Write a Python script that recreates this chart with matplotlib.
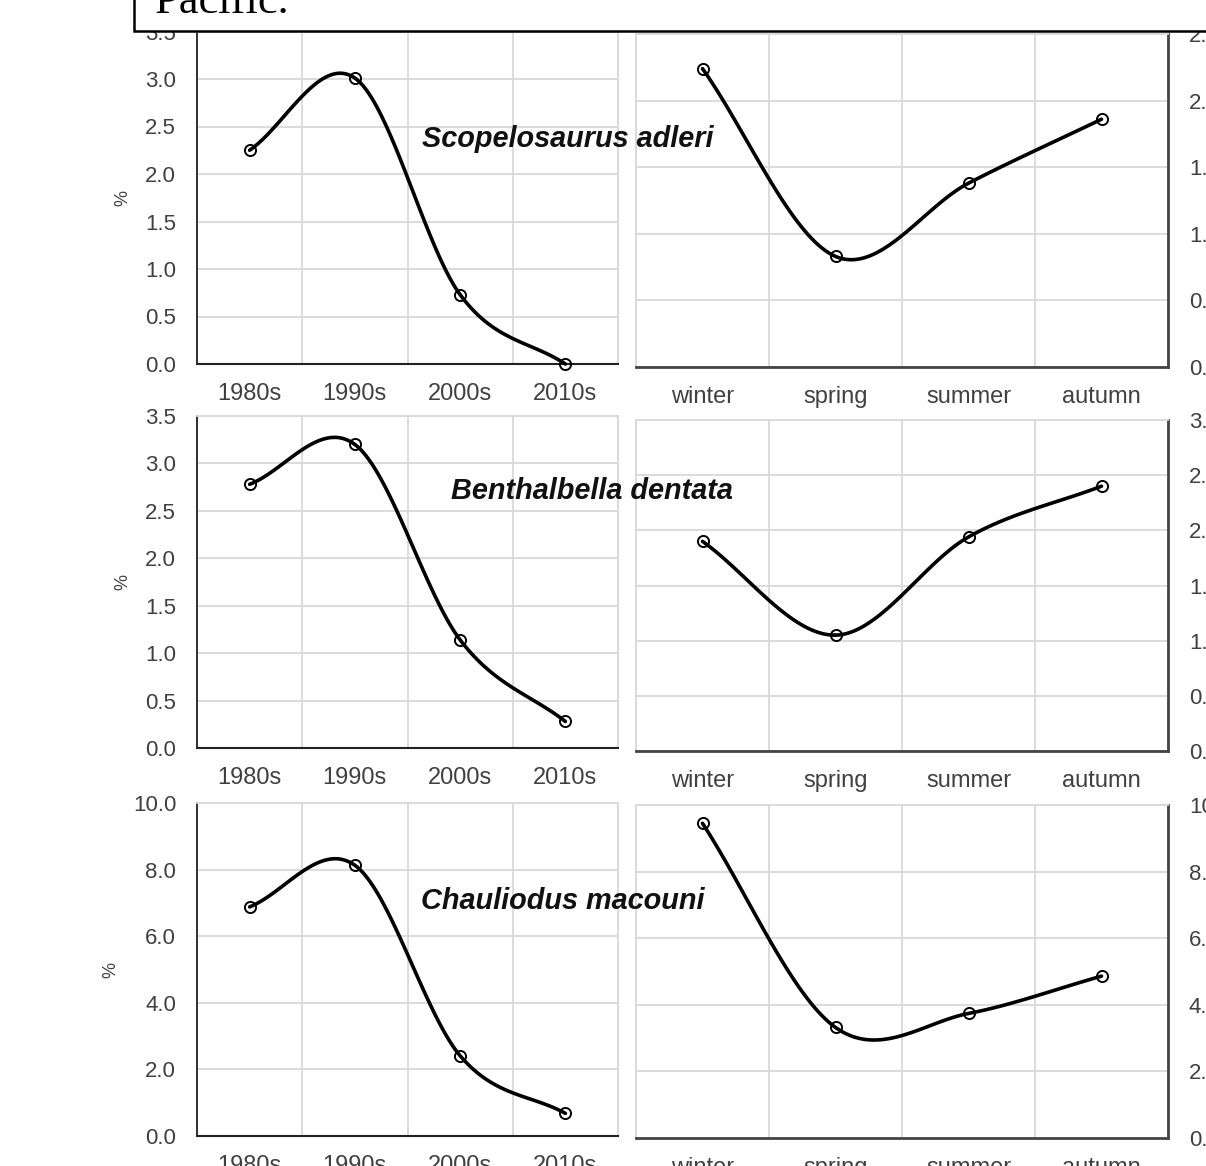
import numpy as np
import matplotlib.pyplot as plt
from matplotlib.patches import Rectangle

plt.rcParams['font.family'] = ['Liberation Sans', 'DejaVu Sans']

decades = ['1980s', '1990s', '2000s', '2010s']
seasons = ['winter', 'spring', 'summer', 'autumn']
species = ['Scopelosaurus adleri', 'Benthalbella dentata', 'Chauliodus macouni']

# share (%) by decade
decade_vals = [
    [2.25, 3.01, 0.73, 0.00],
    [2.78, 3.20, 1.14, 0.28],
    [6.88, 8.13, 2.41, 0.68],
]
# share (%) by season
season_vals = [
    [2.24, 0.83, 1.38, 1.86],
    [1.90, 1.05, 1.94, 2.40],
    [9.45, 3.32, 3.74, 4.86],
]
left_ylim = [3.5, 3.5, 10.0]
left_step = [0.5, 0.5, 2.0]
right_ylim = [2.5, 3.0, 10.0]
right_step = [0.5, 0.5, 2.0]

W, H = 1206, 1166
GRID = '#d9d9d9'
TICK = '#404040'


def smooth(y, n=40):
    # Catmull-Rom curve through the points, like a spreadsheet "smoothed line"
    x = np.arange(len(y), dtype=float)
    p = np.column_stack([x, np.asarray(y, dtype=float)])
    p = np.vstack([2 * p[0] - p[1], p, 2 * p[-1] - p[-2]])
    out = []
    for i in range(1, len(p) - 2):
        p0, p1, p2, p3 = p[i - 1], p[i], p[i + 1], p[i + 2]
        t = np.linspace(0, 1, n)[:, None]
        seg = 0.5 * ((2 * p1) + (-p0 + p2) * t + (2 * p0 - 5 * p1 + 4 * p2 - p3) * t ** 2
                     + (-p0 + 3 * p1 - 3 * p2 + p3) * t ** 3)
        out.append(seg)
    out = np.vstack(out)
    return out[:, 0], out[:, 1]


def px_axes(fig, x0, y0, x1, y1):
    return fig.add_axes([x0 / W, 1 - y1 / H, (x1 - x0) / W, (y1 - y0) / H])


def draw(ax, cats, vals, top, step, right):
    xs, ys = smooth(vals)
    ax.plot(xs, ys, color='black', lw=2.6, solid_capstyle='round', zorder=3, clip_on=False)
    ax.plot(range(len(vals)), vals, ls='none', marker='o', ms=8, mfc='none',
            mec='black', mew=1.4, zorder=4, clip_on=False)
    ax.set_xlim(-0.5, len(cats) - 0.5)
    ax.set_ylim(0, top)
    ax.set_yticks(np.arange(0, top + step / 2, step))
    ax.yaxis.set_major_formatter(plt.FormatStrFormatter('%.1f'))
    ax.set_xticks(range(len(cats)))
    ax.set_xticklabels(cats)
    ax.set_xticks(np.arange(-0.5, len(cats), 1), minor=True)
    ax.grid(False)
    ax.grid(True, which='minor', axis='x', color=GRID, lw=1.3)
    ax.grid(True, which='major', axis='y', color=GRID, lw=1.3)
    ax.set_axisbelow(True)
    ax.tick_params(which='both', length=0, labelcolor=TICK)
    ax.tick_params(axis='x', labelsize=17, pad=14)
    ax.tick_params(axis='y', labelsize=16, pad=15)
    for s in ax.spines.values():
        s.set_color(GRID)
        s.set_linewidth(1.3)
    ax.spines['bottom'].set_color('#222222')
    ax.spines['bottom'].set_linewidth(1.5)
    if right:
        ax.yaxis.tick_right()
        ax.tick_params(axis='y', pad=15)
        ax.spines['right'].set_color('#444444')
        ax.spines['right'].set_linewidth(2)
        ax.spines['bottom'].set_color('#444444')
        ax.spines['bottom'].set_linewidth(2)
    else:
        ax.spines['left'].set_color('#222222')
        ax.spines['left'].set_linewidth(1.3)
        ax.set_ylabel('%', fontsize=13, color=TICK, labelpad=10)


fig = plt.figure(figsize=(W / 100, H / 100), dpi=100)

left_rows = [(31.5, 364), (416, 748), (803, 1136)]
right_rows = [(34, 367), (420, 751), (805, 1138)]
label_pos = [(568, 139), (592, 491), (563, 901)]

for i in range(3):
    axl = px_axes(fig, 197, left_rows[i][0], 618, left_rows[i][1])
    draw(axl, decades, decade_vals[i], left_ylim[i], left_step[i], right=False)
    axr = px_axes(fig, 636, right_rows[i][0], 1168, right_rows[i][1])
    draw(axr, seasons, season_vals[i], right_ylim[i], right_step[i], right=True)
    fig.text(label_pos[i][0] / W, 1 - label_pos[i][1] / H, species[i],
             ha='center', va='center', fontsize=20.8, fontweight='bold',
             fontstyle='italic', color='#111111', zorder=10)

# caption box cut by the top edge
box = Rectangle((134 / W, 1 - 31 / H), 1.2, 0.2, transform=fig.transFigure,
                facecolor='white', edgecolor='black', lw=1.8, zorder=20)
fig.add_artist(box)
fig.text(155 / W, 1 - 13 / H, 'Pacific.', family='Liberation Serif', fontsize=32,
         ha='left', va='baseline', zorder=21)

fig.savefig('out.png', dpi=100)
